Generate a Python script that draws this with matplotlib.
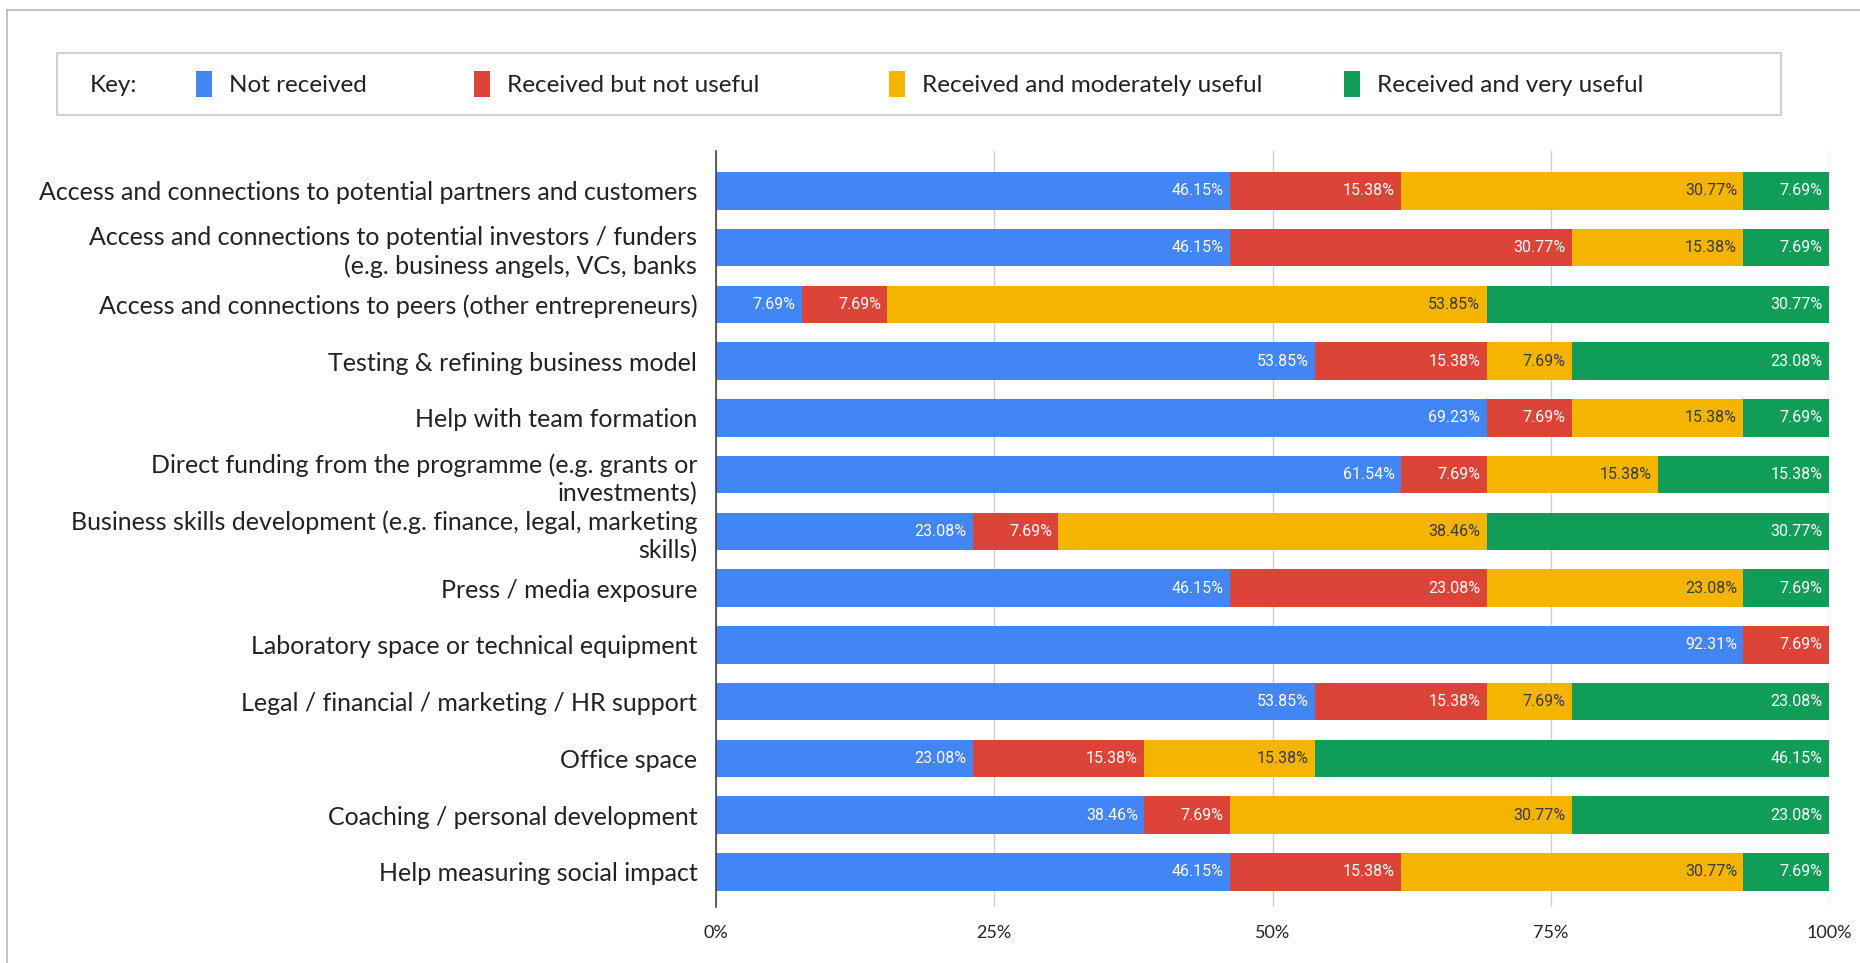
import matplotlib
matplotlib.use("Agg")
import matplotlib.pyplot as plt
from matplotlib.patches import Rectangle
from matplotlib.lines import Line2D
import numpy as np

categories = [
    "Access and connections to potential partners and customers",
    "Access and connections to potential investors / funders\n(e.g. business angels, VCs, banks",
    "Access and connections to peers (other entrepreneurs)",
    "Testing & refining business model",
    "Help with team formation",
    "Direct funding from the programme (e.g. grants or\ninvestments)",
    "Business skills development (e.g. finance, legal, marketing\nskills)",
    "Press / media exposure",
    "Laboratory space or technical equipment",
    "Legal / financial / marketing / HR support",
    "Office space",
    "Coaching / personal development",
    "Help measuring social impact",
]

series_names = [
    "Not received",
    "Received but not useful",
    "Received and moderately useful",
    "Received and very useful",
]

not_received = [46.15, 46.15, 7.69, 53.85, 69.23, 61.54, 23.08, 46.15, 92.31, 53.85, 23.08, 38.46, 46.15]
not_useful = [15.38, 30.77, 7.69, 15.38, 7.69, 7.69, 7.69, 23.08, 7.69, 15.38, 15.38, 7.69, 15.38]
moderately_useful = [30.77, 15.38, 53.85, 7.69, 15.38, 15.38, 38.46, 23.08, 0, 7.69, 15.38, 30.77, 30.77]
very_useful = [7.69, 7.69, 30.77, 23.08, 7.69, 15.38, 30.77, 7.69, 0, 23.08, 46.15, 23.08, 7.69]

x_ticks = [0, 25, 50, 75, 100]
x_tick_labels = ["0%", "25%", "50%", "75%", "100%"]

colors = ["#4285F4", "#DB4437", "#F4B400", "#0F9D58"]
text_colors = ["white", "white", "#3a3a3a", "white"]

W, H = 1860, 963
fig = plt.figure(figsize=(W / 100, H / 100), dpi=100)
fig.patch.set_facecolor("white")


def fx(px):
    return px / W


def fy(py):
    return 1 - py / H


# outer frame (left and top edges)
fig.add_artist(Line2D([fx(7), fx(7)], [0, fy(10)], color="#b8b8b8", lw=1.2,
                      transform=fig.transFigure))
fig.add_artist(Line2D([fx(7), 1], [fy(10), fy(10)], color="#b8b8b8", lw=1.2,
                      transform=fig.transFigure))

# key box
fig.add_artist(Rectangle((fx(57), fy(115)), fx(1781) - fx(57), fy(53) - fy(115),
                         transform=fig.transFigure, facecolor="white",
                         edgecolor="#c8c8c8", lw=1.2))
label_font = "Lato"
fs_key = 17.5
fs_cat = 18
fig.text(fx(90), fy(85), "Key:", fontsize=fs_key, family=label_font,
         va="center", ha="left", color="#222222")
key_sq_x = [196, 474, 889, 1344]
for sx, name, c in zip(key_sq_x, series_names, colors):
    fig.add_artist(Rectangle((fx(sx), fy(97)), fx(16), fy(71) - fy(97),
                             transform=fig.transFigure, facecolor=c,
                             edgecolor="none"))
    fig.text(fx(sx + 33), fy(85), name, fontsize=fs_key, family=label_font,
             va="center", ha="left", color="#222222")

# main plot
ax = fig.add_axes([fx(716), fy(907), fx(1829) - fx(716), fy(151) - fy(907)])
y = np.arange(len(categories))
values = [not_received, not_useful, moderately_useful, very_useful]
left = np.zeros(len(categories))
bar_h = 0.66
for vals, c, tc in zip(values, colors, text_colors):
    vals = np.array(vals, dtype=float)
    ax.barh(y, vals, left=left, height=bar_h, color=c, edgecolor="none", zorder=2)
    for yi, (l, v) in enumerate(zip(left, vals)):
        if v > 0:
            ax.annotate(f"{v:.2f}%", xy=(l + v, yi), xytext=(-4.5, 0),
                        textcoords="offset points", ha="right", va="center",
                        fontsize=11.5, family="Roboto", color=tc, zorder=3)
    left = left + vals

ax.set_xlim(0, 100)
ax.set_ylim(len(categories) - 1 + 0.62, -0.705)
ax.set_xticks(x_ticks)
ax.set_xticklabels(x_tick_labels, fontsize=13, family=label_font, color="#222222")
ax.set_yticks(y)
ax.set_yticklabels(categories, fontsize=fs_cat, family=label_font, color="#222222",
                   linespacing=1.27)
ax.tick_params(axis="both", length=0)
ax.tick_params(axis="y", pad=13.5)
ax.tick_params(axis="x", pad=13)
ax.grid(axis="x", color="#d0d0d0", lw=1, zorder=0)
ax.set_axisbelow(True)
for s in ["top", "right", "bottom"]:
    ax.spines[s].set_visible(False)
ax.spines["left"].set_color("#444444")
ax.spines["left"].set_linewidth(1.2)
ax.spines["left"].set_zorder(4)
ax.set_facecolor("white")

fig.savefig("out.png", dpi=100, facecolor="white")
